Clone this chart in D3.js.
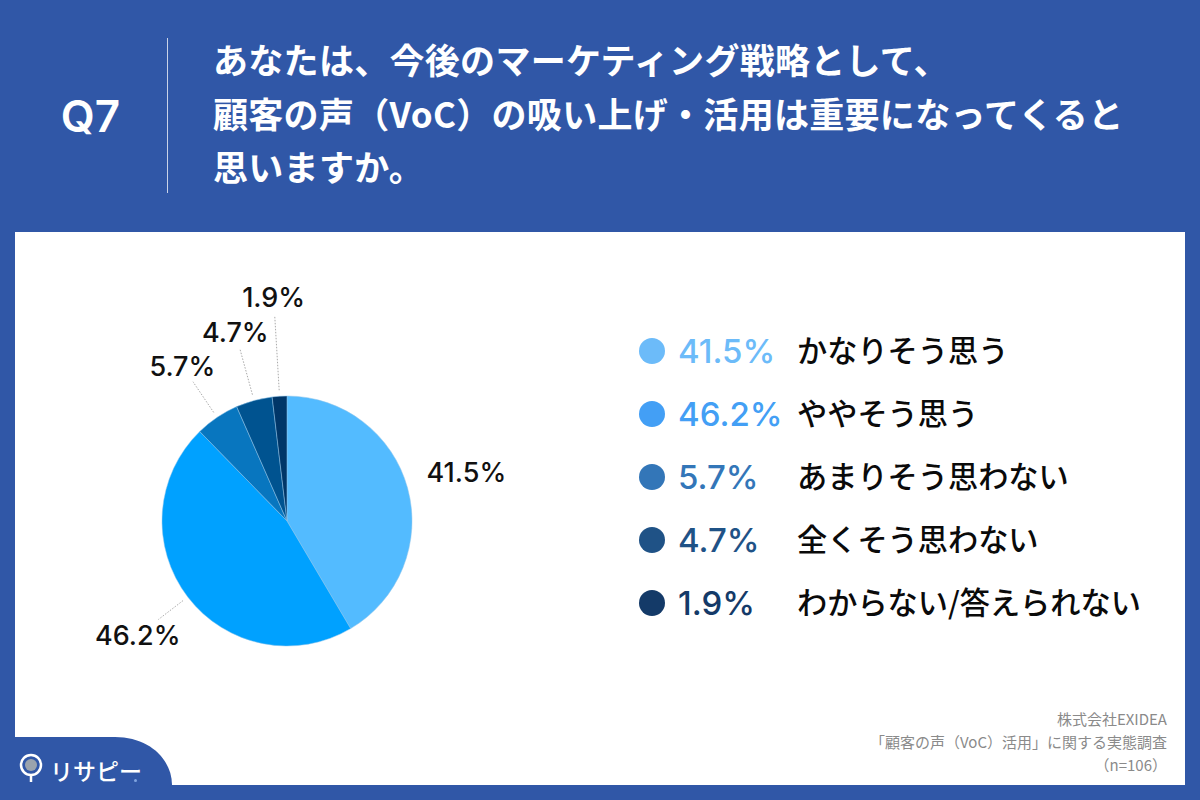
<!DOCTYPE html>
<html>
<head>
<meta charset="utf-8">
<script src="https://cdn.jsdelivr.net/npm/d3@7"></script>
<style>
html,body{margin:0;padding:0;background:#3057a7;}
svg{display:block;}
text{font-family:"Noto Sans CJK JP",sans-serif;}
</style>
</head>
<body>
<svg id="chart" width="1200" height="800"></svg>
<script>
var categories = ["かなりそう思う","ややそう思う","あまりそう思わない","全くそう思わない","わからない/答えられない"];
var values = [41.5,46.2,5.7,4.7,1.9];
var pieColors = ["#53bbff","#00a1ff","#0876bf","#005390","#003668"];
var legendColors = ["#6cbbf9","#439ff5","#3376b8","#1f5286","#143a68"];
var titleLines = ["あなたは、今後のマーケティング戦略として、","顧客の声（VoC）の吸い上げ・活用は重要になってくると","思いますか。"];
var sourceLines = ["株式会社EXIDEA","「顧客の声（VoC）活用」に関する実態調査","（n=106）"];

// per slice label radius and leader end
var labelRadius = [186,188,187,196,224];
var leaderEnd = [0,162,168,178,206];

var svg = d3.select("#chart");
var bg = "#3057a7";

svg.append("rect").attr("x",15).attr("y",232).attr("width",1170).attr("height",553).attr("fill","#fff");

// header
svg.append("line").attr("x1",167.5).attr("x2",167.5).attr("y1",38).attr("y2",193)
	.attr("stroke","#c9d3e8").attr("stroke-width",1);
svg.append("text").attr("x",90.5).attr("y",132).attr("text-anchor","middle")
	.attr("fill","#fff").attr("font-size",44).attr("font-weight",600)
	.style("font-family","Inter,sans-serif").text("Q7");
svg.selectAll("text.title").data(titleLines).enter().append("text")
	.attr("class","title").attr("x",213)
	.attr("y",function(d,i){return 74+i*53.5;})
	.attr("fill","#fff").attr("font-size",35).attr("font-weight",700)
	.style("letter-spacing","0.3px")
	.text(function(d){return d;});

// pie
var cx=287, cy=521, r=125;
var pie = d3.pie().sort(null).value(function(d){return d;});
var arc = d3.arc().innerRadius(0).outerRadius(r);
var arcs = pie(values);
var g = svg.append("g").attr("transform","translate("+cx+","+cy+")");
g.selectAll("path").data(arcs).enter().append("path")
	.attr("d",arc)
	.attr("fill",function(d,i){return pieColors[i];})
	.attr("stroke","#8fc4ea").attr("stroke-width",0.5);

function polar(d,rad){
	var a=(d.startAngle+d.endAngle)/2;
	return [Math.sin(a)*rad,-Math.cos(a)*rad];
}
g.selectAll("line").data(arcs).enter().append("line")
	.filter(function(d,i){return leaderEnd[i]>0;})
	.attr("x1",function(d){return polar(d,131)[0];})
	.attr("y1",function(d){return polar(d,131)[1];})
	.attr("x2",function(d){return polar(d,leaderEnd[d.index])[0];})
	.attr("y2",function(d){return polar(d,leaderEnd[d.index])[1];})
	.attr("stroke","#aaa").attr("stroke-width",1).attr("stroke-dasharray","1.5 1.5");
g.selectAll("text").data(arcs).enter().append("text")
	.attr("x",function(d,i){return polar(d,labelRadius[i])[0];})
	.attr("y",function(d,i){return polar(d,labelRadius[i])[1]+10;})
	.attr("text-anchor","middle").attr("fill","#111")
	.attr("font-size",27).attr("font-weight",500)
	.style("font-family","Inter,sans-serif")
	.text(function(d){return d.value.toFixed(1)+"%";});

// legend
var y = d3.scalePoint().domain(categories).range([351,603]);
var row = svg.selectAll("g.row").data(categories).enter().append("g").attr("class","row")
	.attr("transform",function(d){return "translate(0,"+y(d)+")";});
row.append("circle").attr("cx",652).attr("r",13)
	.attr("fill",function(d,i){return legendColors[i];});
row.append("text").attr("x",678).attr("y",12).attr("font-size",33).attr("font-weight",500)
	.style("font-family","Inter,sans-serif")
	.attr("fill",function(d,i){return legendColors[i];})
	.text(function(d,i){return values[i].toFixed(1)+"%";});
row.append("text").attr("x",797).attr("y",11).attr("font-size",30.2).attr("font-weight",500)
	.attr("fill","#0a0a0a").text(function(d){return d;});

// source note
svg.selectAll("text.src").data(sourceLines).enter().append("text")
	.attr("class","src").attr("x",1167)
	.attr("y",function(d,i){return 725+i*23;})
	.attr("text-anchor","end").attr("fill","#8a8a8a").attr("font-size",15)
	.text(function(d){return d;});

// logo tab
svg.append("path")
	.attr("d","M0,737H115C150,737 172,760 172,785V800H0Z")
	.attr("fill",bg);
svg.append("circle").attr("cx",31).attr("cy",765).attr("r",10)
	.attr("fill","none").attr("stroke","#fff").attr("stroke-width",2.5);
svg.append("circle").attr("cx",31).attr("cy",765).attr("r",6).attr("fill","#9aa3ad");
svg.append("line").attr("x1",31).attr("x2",31).attr("y1",776).attr("y2",782)
	.attr("stroke","#fff").attr("stroke-width",2.5);
svg.append("text").attr("x",50).attr("y",780).attr("fill","#fff")
	.attr("font-size",23).attr("font-weight",500).text("リサピー");
svg.append("circle").attr("cx",135.5).attr("cy",780.5).attr("r",1.5).attr("fill","#7fa3e0");
</script>
</body>
</html>
